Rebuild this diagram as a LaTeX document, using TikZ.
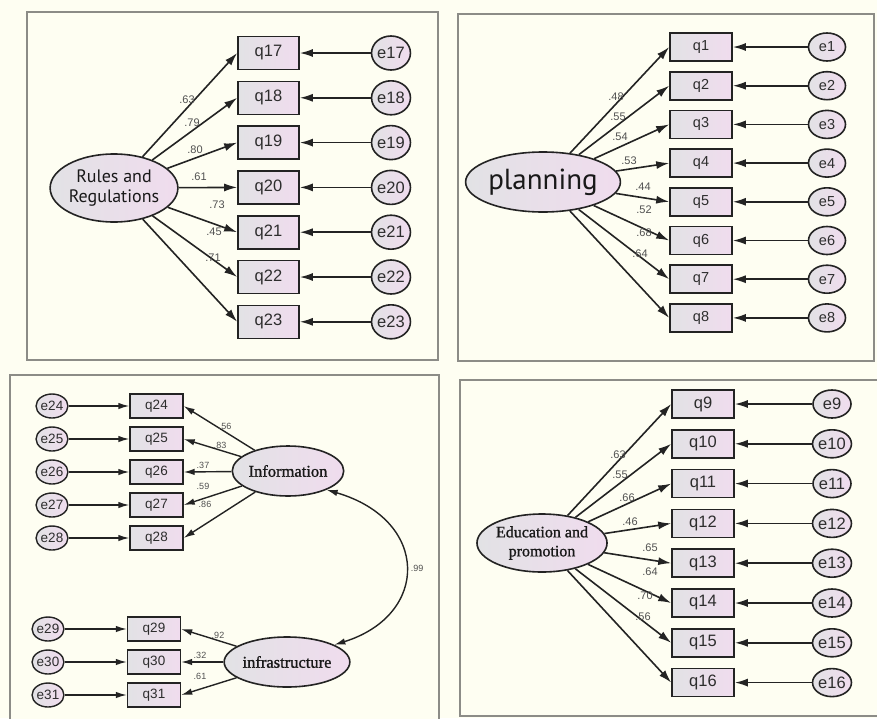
\documentclass[tikz,border=0pt]{standalone}
\usepackage{fontspec}
\setmainfont{Liberation Sans}
\newfontfamily\latfont{PT Sans}
\newfontfamily\serfont[FakeBold=1.2]{Liberation Serif}
\usetikzlibrary{arrows.meta,shapes.geometric}
\definecolor{bgcream}{RGB}{254,254,242}
\definecolor{framegray}{RGB}{140,140,135}
\definecolor{boxL}{RGB}{226,226,229}
\definecolor{boxR}{RGB}{240,220,238}
\definecolor{lblgray}{RGB}{80,80,80}
\definecolor{edgeblk}{RGB}{35,35,35}
\definecolor{txtgray}{RGB}{45,45,45}
\tikzset{
  panel/.style={draw=framegray,line width=1.5pt,fill=bgcream},
  qcommon/.style={rectangle,draw=edgeblk,line width=1.6pt,left color=boxL,right color=boxR,inner sep=0pt,text=txtgray},
  qA/.style={qcommon,minimum width=61pt,minimum height=33pt,font=\fontsize{16.5}{17}\selectfont},
  qB/.style={qcommon,minimum width=62pt,minimum height=28pt,font=\fontsize{14.5}{15}\selectfont},
  qC/.style={qcommon,minimum width=53pt,minimum height=24pt,line width=1.4pt,font=\fontsize{13.5}{14}\selectfont},
  ecommon/.style={ellipse,draw=edgeblk,line width=1.6pt,left color=boxL,right color=boxR,inner sep=0pt,text=txtgray},
  eA/.style={ecommon,minimum width=36pt,minimum height=34pt,font=\fontsize{16.5}{17}\selectfont},
  eB/.style={ecommon,minimum width=37pt,minimum height=28pt,font=\fontsize{14.5}{15}\selectfont},
  eC/.style={ecommon,minimum width=31pt,minimum height=24pt,line width=1.4pt,font=\fontsize{13.5}{14}\selectfont},
  latent/.style={ellipse,draw=edgeblk,line width=1.6pt,left color=boxL,right color=boxR,inner sep=0pt,align=center,text=black!90},
  load/.style={text=lblgray,inner sep=0pt,font=\fontsize{11}{11}\selectfont},
  loadS/.style={text=lblgray,inner sep=0pt,font=\fontsize{9}{9}\selectfont},
  pathA/.style={draw=edgeblk,line width=1.6pt,-{Latex[length=13pt,width=8pt]}},
  pathC/.style={draw=edgeblk,line width=1.4pt,-{Latex[length=11pt,width=6.5pt]}},
}
\begin{document}
\begin{tikzpicture}[x=1pt,y=-1pt]
\fill[bgcream] (0,0) rectangle (877,718);
\useasboundingbox (0,0) rectangle (877,718);
% panels
\draw[panel] (27,12) rectangle (438,360);
\draw[panel] (458,14) rectangle (874,361);
\draw[panel] (10,375) rectangle (439,724);
\draw[panel] (460,380) rectangle (882,716);

% ---------- Panel 1: Rules and Regulations ----------
\node[latent,minimum width=122pt,minimum height=68pt,font=\latfont\fontsize{18}{20}\selectfont] (rules) at (114,188) {Rules and\\Regulations};
\foreach \i [count=\k from 0] in {17,...,23} {
  \node[qA] (q\i) at (268.5,53+44.8*\k) {q\i};
  \node[eA] (e\i) at (391,53+44.8*\k) {e\i};
  \draw[pathA] (e\i) -- (q\i);
  \draw[pathA] (rules) -- (q\i.west);
}
\foreach \v/\x/\y/\n in {.63/187/100/a,.79/192/123/b,.80/195/150/c,.61/199/177/d,.73/217/205/e,.45/214/232/f,.71/213/258/g}
  \node[load] (lr\n) at (\x,\y) {\v};

% ---------- Panel 2: planning ----------
\node[latent,minimum width=124pt,minimum height=60pt,font=\latfont\fontsize{29}{30}\selectfont] (plan) at (543,182) {planning};
\foreach \i [count=\k from 0] in {1,...,8} {
  \node[qB] (q\i) at (701,47+38.7*\k) {q\i};
  \node[eB] (e\i) at (827,47+38.7*\k) {e\i};
  \draw[pathA] (e\i) -- (q\i);
  \draw[pathA] (plan) -- (q\i.west);
}
\foreach \v/\x/\y/\n in {.48/616/97/a,.55/618/117/b,.54/620/137/c,.53/629/161/d,.44/643/187/e,.52/644/210/f,.68/644/233/g,.64/640/254/h}
  \node[load] (lp\n) at (\x,\y) {\v};

% ---------- Panel 4: Education and promotion ----------
\node[latent,minimum width=126pt,minimum height=58pt,font=\serfont\fontsize{16}{19}\selectfont] (edu) at (542,543) {Education and\\promotion};
\foreach \i [count=\k from 0] in {9,...,16} {
  \node[qB,font=\fontsize{16.5}{17}\selectfont] (q\i) at (703,404+39.8*\k) {q\i};
  \node[eB,minimum width=38pt,font=\fontsize{16.5}{17}\selectfont] (e\i) at (832,404+39.8*\k) {e\i};
  \draw[pathA] (e\i) -- (q\i);
  \draw[pathA] (edu) -- (q\i.west);
}
\foreach \v/\x/\y/\n in {.63/618/455/a,.55/620/475/b,.66/627/498/c,.46/630/522/d,.65/650/548/e,.64/650/572/f,.70/645/596/g,.56/643/617/h}
  \node[load] (le\n) at (\x,\y) {\v};

% ---------- Panel 3: Information / infrastructure ----------
\node[latent,minimum width=104pt,minimum height=50pt,font=\serfont\fontsize{16.5}{18}\selectfont] (info) at (288,471) {Information};
\node[latent,minimum width=104pt,minimum height=50pt,font=\serfont\fontsize{16.5}{18}\selectfont] (infra) at (287,662) {infrastructure};
\foreach \i [count=\k from 0] in {24,...,28} {
  \node[qC] (q\i) at (156.5,406+33*\k) {q\i};
  \node[eC] (e\i) at (52,406+33*\k) {e\i};
  \draw[pathC] (e\i) -- (q\i);
  \draw[pathC] (info) -- (q\i.east);
}
\foreach \i [count=\k from 0] in {29,30,31} {
  \node[qC] (q\i) at (154,629+33*\k) {q\i};
  \node[eC] (e\i) at (48,629+33*\k) {e\i};
  \draw[pathC] (e\i) -- (q\i);
  \draw[pathC] (infra) -- (q\i.east);
}
\draw[draw=edgeblk,line width=1.4pt,{Latex[length=11pt,width=6.5pt]}-{Latex[length=11pt,width=6.5pt]}]
  (info.-26) .. controls (430,520) and (430,615) .. (infra.20);
\foreach \v/\x/\y/\n in {.56/225/426/a,.83/220/445/b,.37/203/465/c,.59/203/486/d,.86/205/504/e,.92/218/635/f,.32/200/655/g,.61/200/676/h,.99/417/568/i}
  \node[loadS] (li\n) at (\x,\y) {\v};
\end{tikzpicture}
\end{document}
